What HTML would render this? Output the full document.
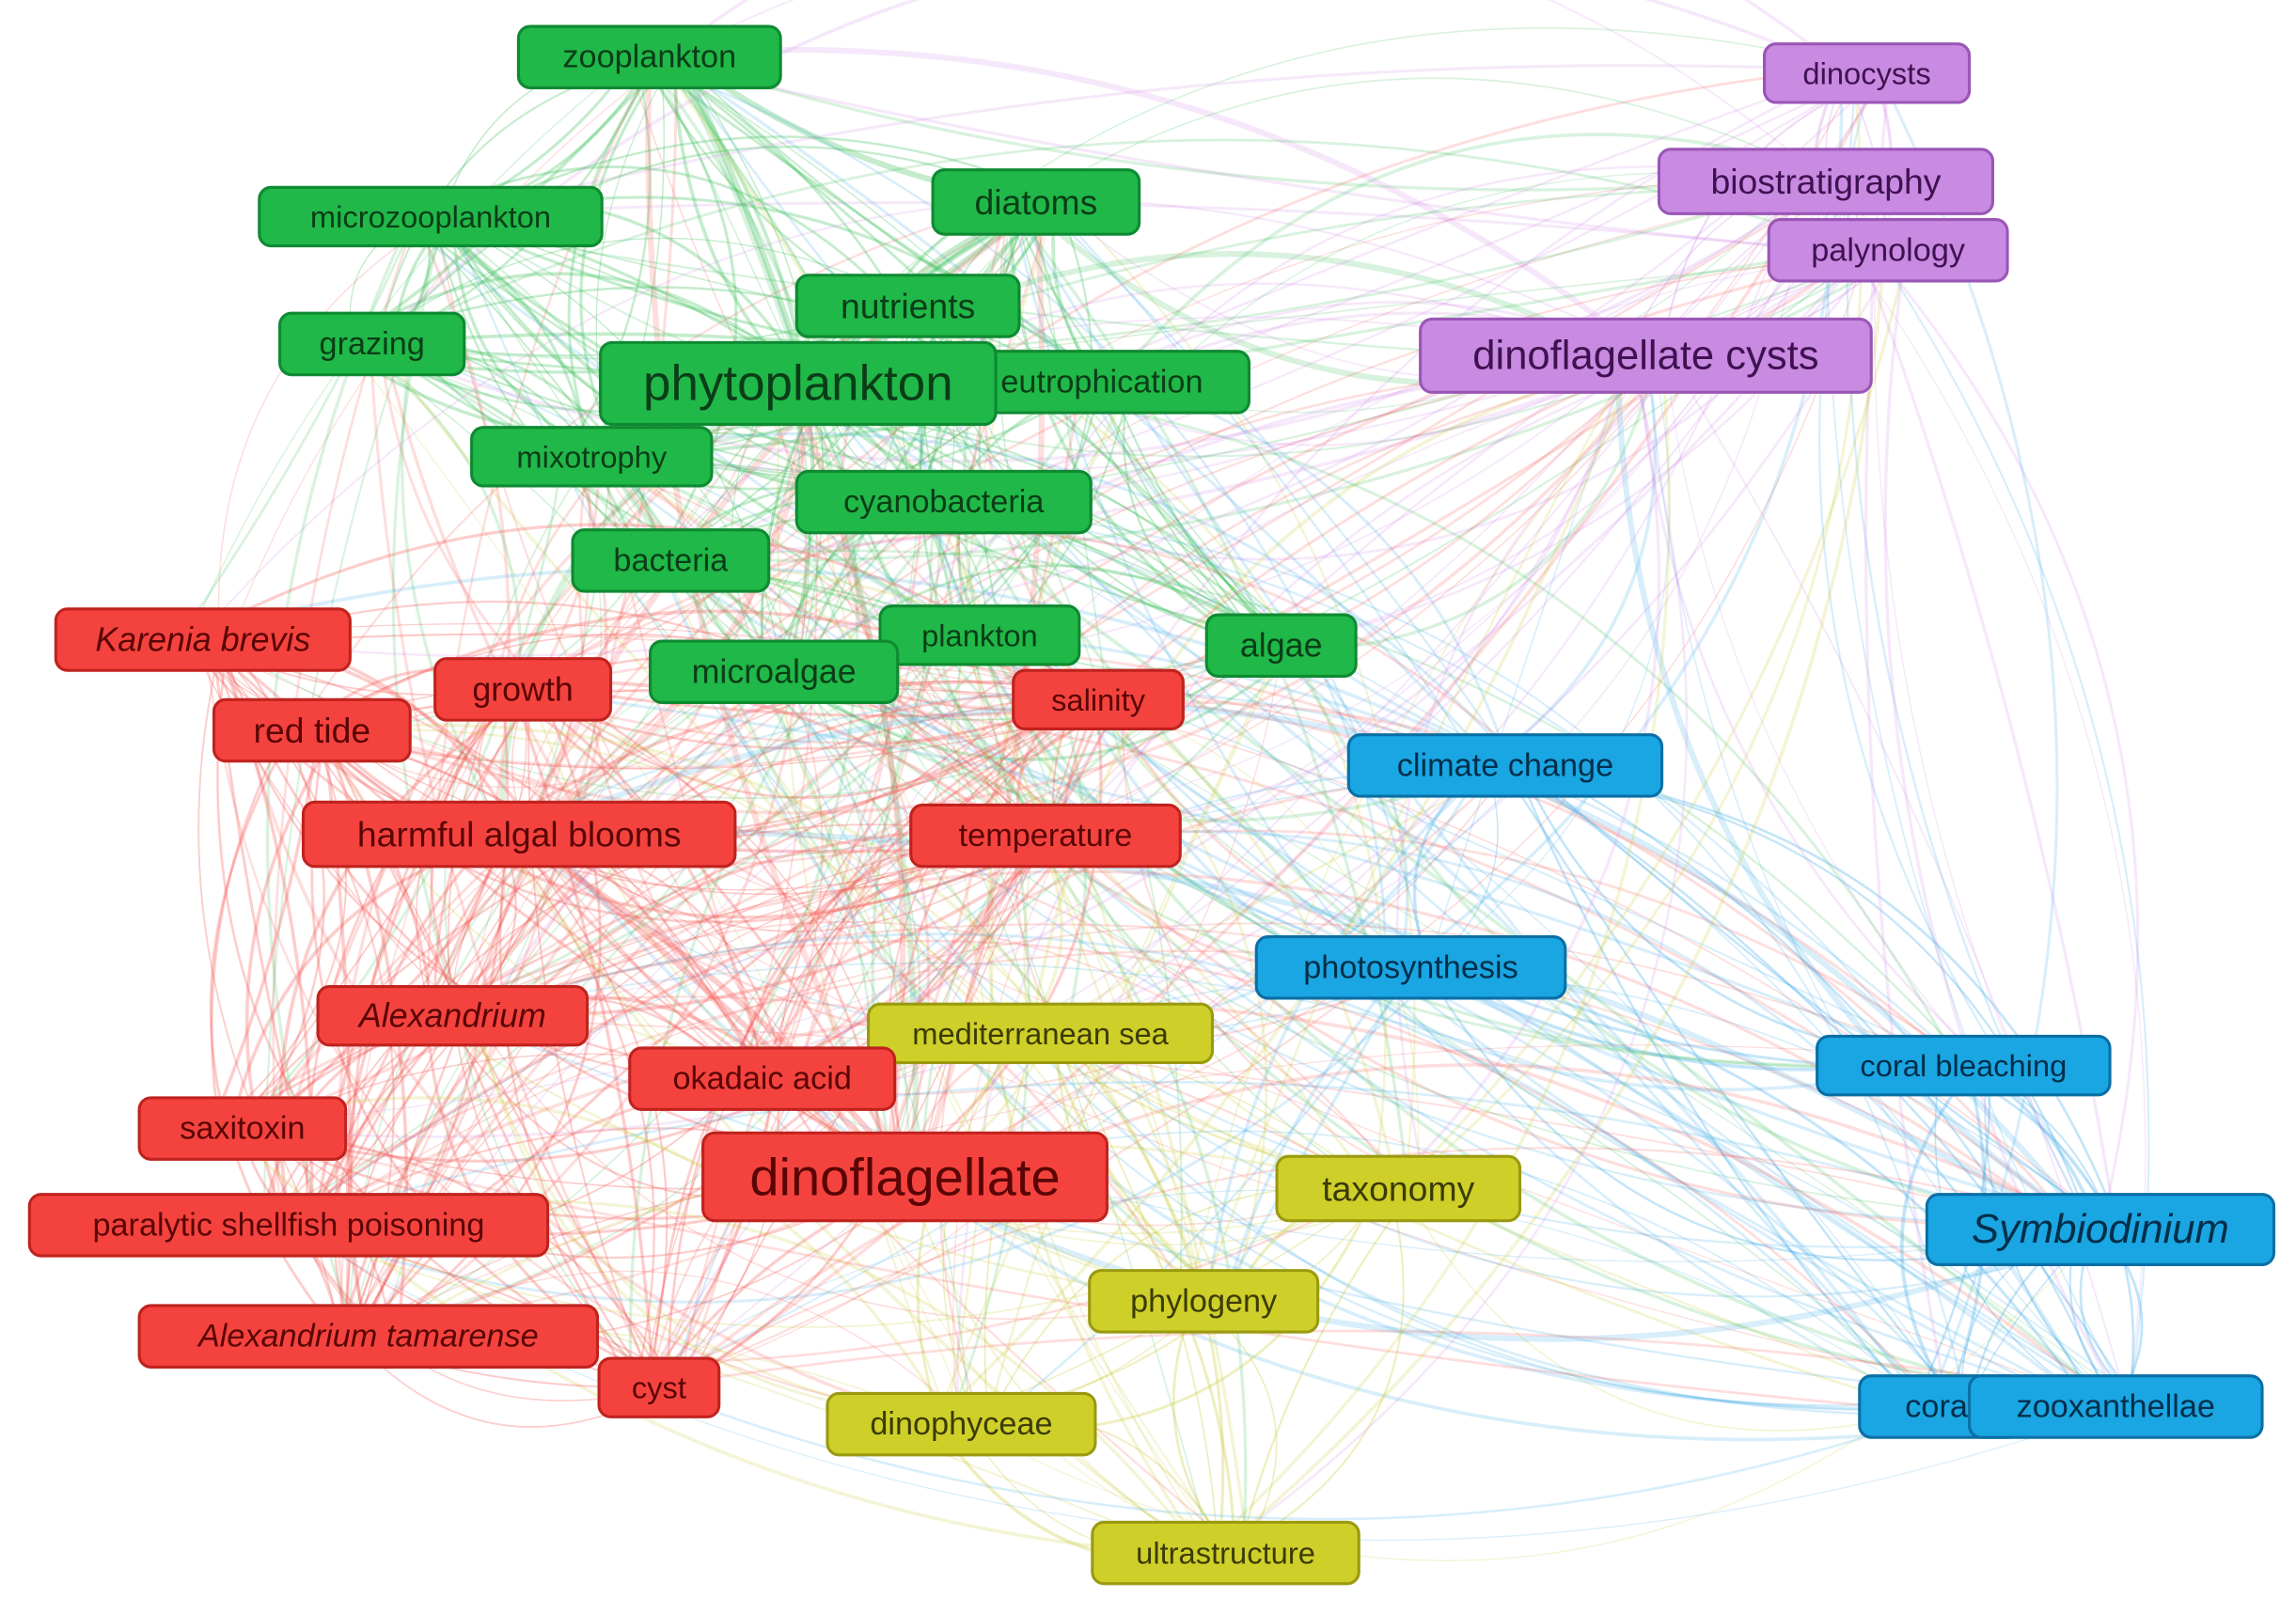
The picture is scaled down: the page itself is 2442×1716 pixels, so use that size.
<!DOCTYPE html>
<html><head><meta charset="utf-8">
<style>
html,body{margin:0;padding:0;background:#fff;}
svg{display:block;}
text{font-family:"Liberation Sans","DejaVu Sans",sans-serif;dominant-baseline:central;text-anchor:middle;}
</style></head>
<body>
<svg id="s" width="2442" height="1716" viewBox="0 0 1568 1102" xmlns="http://www.w3.org/2000/svg">
<g id="edges" fill="none" stroke-linecap="round"></g>
<g id="nodes"></g>
</svg>
<script>
var N=[
["zooplankton",354,18,533,60,"g",22],
["microzooplankton",177,128,411,168,"g",21],
["grazing",191,214,317,256,"g",22],
["diatoms",637,116,778,160,"g",24],
["nutrients",544,188,696,230,"g",24],
["eutrophication",652,240,853,282,"g",22],
["phytoplankton",410,234,680,290,"g",34],
["mixotrophy",322,292,486,332,"g",21],
["cyanobacteria",544,322,745,364,"g",22],
["bacteria",391,362,525,404,"g",22],
["plankton",601,414,737,454,"g",21],
["microalgae",444,438,613,480,"g",23],
["algae",824,420,926,462,"g",23],
["Karenia brevis",38,416,239,458,"r",23,1],
["growth",297,450,417,492,"r",23],
["red tide",146,478,280,520,"r",24],
["salinity",692,458,808,498,"r",21],
["harmful algal blooms",207,548,502,592,"r",24],
["temperature",622,550,806,592,"r",22],
["climate change",921,502,1135,544,"b",22],
["photosynthesis",858,640,1069,682,"b",22],
["Alexandrium",217,674,401,714,"r",23,1],
["mediterranean sea",593,686,828,726,"y",21],
["okadaic acid",430,716,611,758,"r",22],
["saxitoxin",95,750,236,792,"r",22],
["coral bleaching",1241,708,1441,748,"b",21],
["dinoflagellate",480,774,756,834,"r",36],
["taxonomy",872,790,1038,834,"y",24],
["paralytic shellfish poisoning",20,816,374,858,"r",22],
["Symbiodinium",1316,816,1553,864,"b",28,1],
["phylogeny",744,868,900,910,"y",22],
["Alexandrium tamarense",95,892,408,934,"r",22,1],
["cyst",409,928,491,968,"r",21],
["dinophyceae",565,952,748,994,"y",22],
["coral",1270,940,1380,982,"b",22],
["zooxanthellae",1345,940,1545,982,"b",22],
["ultrastructure",746,1040,928,1082,"y",21],
["dinocysts",1205,30,1345,70,"p",21],
["biostratigraphy",1133,102,1361,146,"p",24],
["palynology",1208,150,1371,192,"p",22],
["dinoflagellate cysts",970,218,1278,268,"p",28]
];
var C={g:["#20b848","#0e8a32","#0b3d18","#3cc05a"],r:["#f4433e","#c0221e","#5a0505","#f55a55"],y:["#cfcf2a","#9a9a10","#3b3b05","#c8c830"],b:["#1aa6e2","#0a6fa6","#022e4a","#3aa8e8"],p:["#c98ae2","#9a56b6","#3e1250","#d08ae6"]};
var NS="http://www.w3.org/2000/svg";
var E=document.getElementById("edges"),G=document.getElementById("nodes");
var seed=7;function rnd(){seed=(seed*16807)%2147483647;return seed/2147483647;}
function cx(n){return (n[1]+n[3])/2}function cy(n){return (n[2]+n[4])/2}
var big={"phytoplankton":1,"dinoflagellate":1,"harmful algal blooms":1,"diatoms":1,"Symbiodinium":1,"dinoflagellate cysts":1,"zooplankton":1};
for(var i=0;i<N.length;i++)for(var j=i+1;j<N.length;j++){
 var a=N[i],b=N[j];var same=a[5]==b[5];
 var p=same?0.9:0.35; if(big[a[0]]||big[b[0]])p+=0.25;
 if(rnd()>p)continue;
 var k=1+Math.floor(rnd()*(same?3:2));
 for(var t=0;t<k;t++){
 var x1=cx(a)+(rnd()-0.5)*40,y1=cy(a)+(rnd()-0.5)*10,x2=cx(b)+(rnd()-0.5)*40,y2=cy(b)+(rnd()-0.5)*10;
 var mx=(x1+x2)/2,my=(y1+y2)/2,dx=x2-x1,dy=y2-y1,s=(rnd()-0.5)*0.8;
 var qx=mx-dy*s,qy=my+dx*s;
 var pth=document.createElementNS(NS,"path");
 pth.setAttribute("d","M"+x1+","+y1+" Q"+qx+","+qy+" "+x2+","+y2);
 var col=C[rnd()<0.5?a[5]:b[5]][3];
 pth.setAttribute("stroke",col);
 pth.setAttribute("stroke-opacity",same?0.3:0.2);
 pth.setAttribute("stroke-width",(big[a[0]]&&big[b[0]])?4:(0.8+rnd()*1.6));
 E.appendChild(pth);}
}
N.forEach(function(n){
 var c=C[n[5]];var w=n[3]-n[1],h=n[4]-n[2];
 var r=document.createElementNS(NS,"rect");
 r.setAttribute("x",n[1]);r.setAttribute("y",n[2]);r.setAttribute("width",w);r.setAttribute("height",h);
 r.setAttribute("rx",8);r.setAttribute("fill",c[0]);r.setAttribute("stroke",c[1]);r.setAttribute("stroke-width",2);
 G.appendChild(r);
 var t=document.createElementNS(NS,"text");
 t.setAttribute("x",n[1]+w/2);t.setAttribute("y",n[2]+h/2);t.setAttribute("font-size",n[6]);
 t.setAttribute("fill",c[2]);if(n[7])t.setAttribute("font-style","italic");
 t.textContent=n[0];G.appendChild(t);
});
</script>
</body></html>
